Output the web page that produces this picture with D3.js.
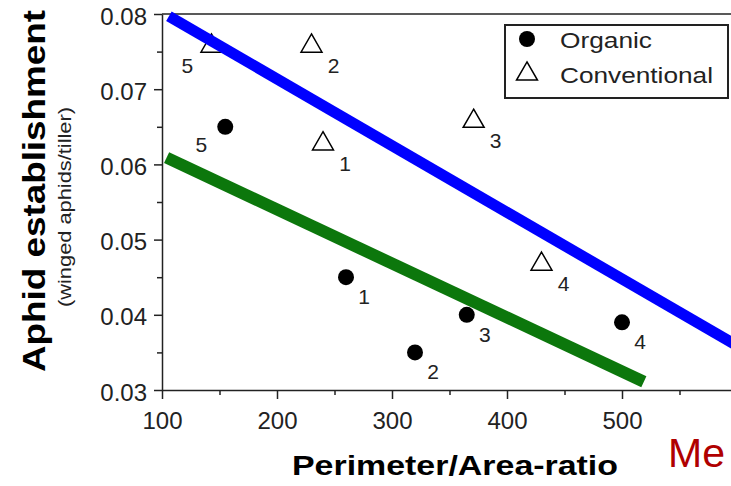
<!DOCTYPE html>
<html lang="en">
<head>
    <meta charset="UTF-8">
    <title>Aphid establishment vs Perimeter/Area-ratio</title>
    <script src="https://d3js.org/d3.v7.min.js"></script>
    <style>
        body { margin: 0; background: #fff; }
        svg { display: block; font-family: "Liberation Sans", Arial, sans-serif; }
        .axis text { font-size: 24px; fill: #222; font-family: "Liberation Sans", Arial, sans-serif; }
        .axis path, .axis line { stroke: #222; stroke-width: 1.5; }
    </style>
</head>
<body>
<svg id="chart" width="731" height="486"></svg>
<script>
    // data
    const organicX = [260, 320, 365, 500, 155];
    const organicY = [0.045, 0.035, 0.040, 0.039, 0.065];
    const organicId = ["1", "2", "3", "4", "5"];

    const convX = [240, 230, 371, 430, 143];
    const convY = [0.063, 0.076, 0.066, 0.047, 0.076];
    const convId = ["1", "2", "3", "4", "5"];

    const blueLineX = [106, 600];
    const blueLineY = [0.0797, 0.0359];
    const greenLineX = [104, 519];
    const greenLineY = [0.0609, 0.0311];

    const xTicks = [100, 200, 300, 400, 500];
    const xMinor = [150, 250, 350, 450, 550];
    const yTicks = [0.03, 0.04, 0.05, 0.06, 0.07, 0.08];
    const yMinor = [0.035, 0.045, 0.055, 0.065, 0.075];

    const svg = d3.select("#chart");
    const x = d3.scaleLinear().domain([100, 600]).range([162, 737]);
    const y = d3.scaleLinear().domain([0.03, 0.08]).range([390, 14]);

    // minor ticks
    svg.append("g").attr("class", "axis").attr("transform", "translate(0,390)")
        .call(d3.axisBottom(x).tickValues(xMinor).tickSize(5).tickFormat(""))
        .select(".domain").remove();
    svg.append("g").attr("class", "axis").attr("transform", "translate(162,0)")
        .call(d3.axisLeft(y).tickValues(yMinor).tickSize(5).tickFormat(""))
        .select(".domain").remove();

    // major axes
    svg.append("g").attr("class", "axis").attr("transform", "translate(0,390)")
        .call(d3.axisBottom(x).tickValues(xTicks).tickSize(9).tickSizeOuter(0).tickPadding(13));
    svg.append("g").attr("class", "axis").attr("transform", "translate(162,0)")
        .call(d3.axisLeft(y).tickValues(yTicks).tickSize(8).tickSizeOuter(0).tickPadding(7).tickFormat(d3.format(".2f")))
        .selectAll("text").attr("dy", "0.42em");

    // frame top
    svg.append("line").attr("x1", x(100)).attr("x2", x(600)).attr("y1", y(0.08)).attr("y2", y(0.08))
        .attr("stroke", "#222").attr("stroke-width", 1.5);

    const line = d3.line().x(d => x(d[0])).y(d => y(d[1]));

    // green regression (organic)
    svg.append("path").datum(d3.zip(greenLineX, greenLineY)).attr("d", line)
        .attr("stroke", "#0c770c").attr("stroke-width", 12).attr("fill", "none");

    // organic points
    const organic = d3.zip(organicX, organicY, organicId);
    svg.selectAll(".org").data(organic).enter().append("circle").attr("class", "org")
        .attr("cx", d => x(d[0])).attr("cy", d => y(d[1])).attr("r", 8).attr("fill", "#000");
    svg.selectAll(".orgLab").data(organic).enter().append("text").attr("class", "orgLab")
        .attr("x", d => x(d[0]) + (d[2] === "5" ? -24 : 18))
        .attr("y", d => y(d[1]) + (d[2] === "5" ? 17 : 19) + 8)
        .attr("text-anchor", "middle").attr("font-size", 21).attr("fill", "#222")
        .text(d => d[2]);

    // conventional points
    const tri = d3.symbol().type(d3.symbolTriangle).size(190);
    const conv = d3.zip(convX, convY, convId);
    svg.selectAll(".conv").data(conv).enter().append("path").attr("class", "conv")
        .attr("d", tri)
        .attr("transform", d => `translate(${x(d[0])},${y(d[1]) + 2})`)
        .attr("fill", "#fff").attr("stroke", "#000").attr("stroke-width", 1.5);
    svg.selectAll(".convLab").data(conv).enter().append("text").attr("class", "convLab")
        .attr("x", d => x(d[0]) + (d[2] === "5" ? -24 : 22))
        .attr("y", d => y(d[1]) + 21 + 8)
        .attr("text-anchor", "middle").attr("font-size", 21).attr("fill", "#222")
        .text(d => d[2]);

    // blue regression (conventional)
    svg.append("path").datum(d3.zip(blueLineX, blueLineY)).attr("d", line)
        .attr("stroke", "#0000ff").attr("stroke-width", 11).attr("fill", "none");

    // legend
    const lg = svg.append("g");
    lg.append("rect").attr("x", 505).attr("y", 25).attr("width", 223).attr("height", 73)
        .attr("fill", "#fff").attr("stroke", "#222").attr("stroke-width", 2);
    lg.append("circle").attr("cx", 527).attr("cy", 39).attr("r", 8).attr("fill", "#000");
    lg.append("path").attr("d", tri).attr("transform", "translate(527,74)")
        .attr("fill", "#fff").attr("stroke", "#000").attr("stroke-width", 1.5);
    lg.append("text").attr("x", 560).attr("y", 48).attr("font-size", 22).attr("fill", "#222")
        .attr("textLength", 92).attr("lengthAdjust", "spacingAndGlyphs").text("Organic");
    lg.append("text").attr("x", 560).attr("y", 83).attr("font-size", 22).attr("fill", "#222")
        .attr("textLength", 153).attr("lengthAdjust", "spacingAndGlyphs").text("Conventional");

    // axis titles
    svg.append("text").attr("transform", "translate(45,191) rotate(-90)")
        .attr("text-anchor", "middle").attr("font-size", 31).attr("font-weight", "bold")
        .attr("textLength", 362).attr("lengthAdjust", "spacingAndGlyphs")
        .text("Aphid establishment");
    svg.append("text").attr("transform", "translate(71,207) rotate(-90)")
        .attr("text-anchor", "middle").attr("font-size", 19).attr("fill", "#222")
        .attr("textLength", 200).attr("lengthAdjust", "spacingAndGlyphs")
        .text("(winged aphids/tiller)");
    svg.append("text").attr("x", 455).attr("y", 475)
        .attr("text-anchor", "middle").attr("font-size", 28).attr("font-weight", "bold")
        .attr("textLength", 326).attr("lengthAdjust", "spacingAndGlyphs")
        .text("Perimeter/Area-ratio");

    svg.append("text").attr("x", 668).attr("y", 467).attr("font-size", 41).attr("fill", "#b00000")
        .text("Me");
</script>
</body>
</html>
